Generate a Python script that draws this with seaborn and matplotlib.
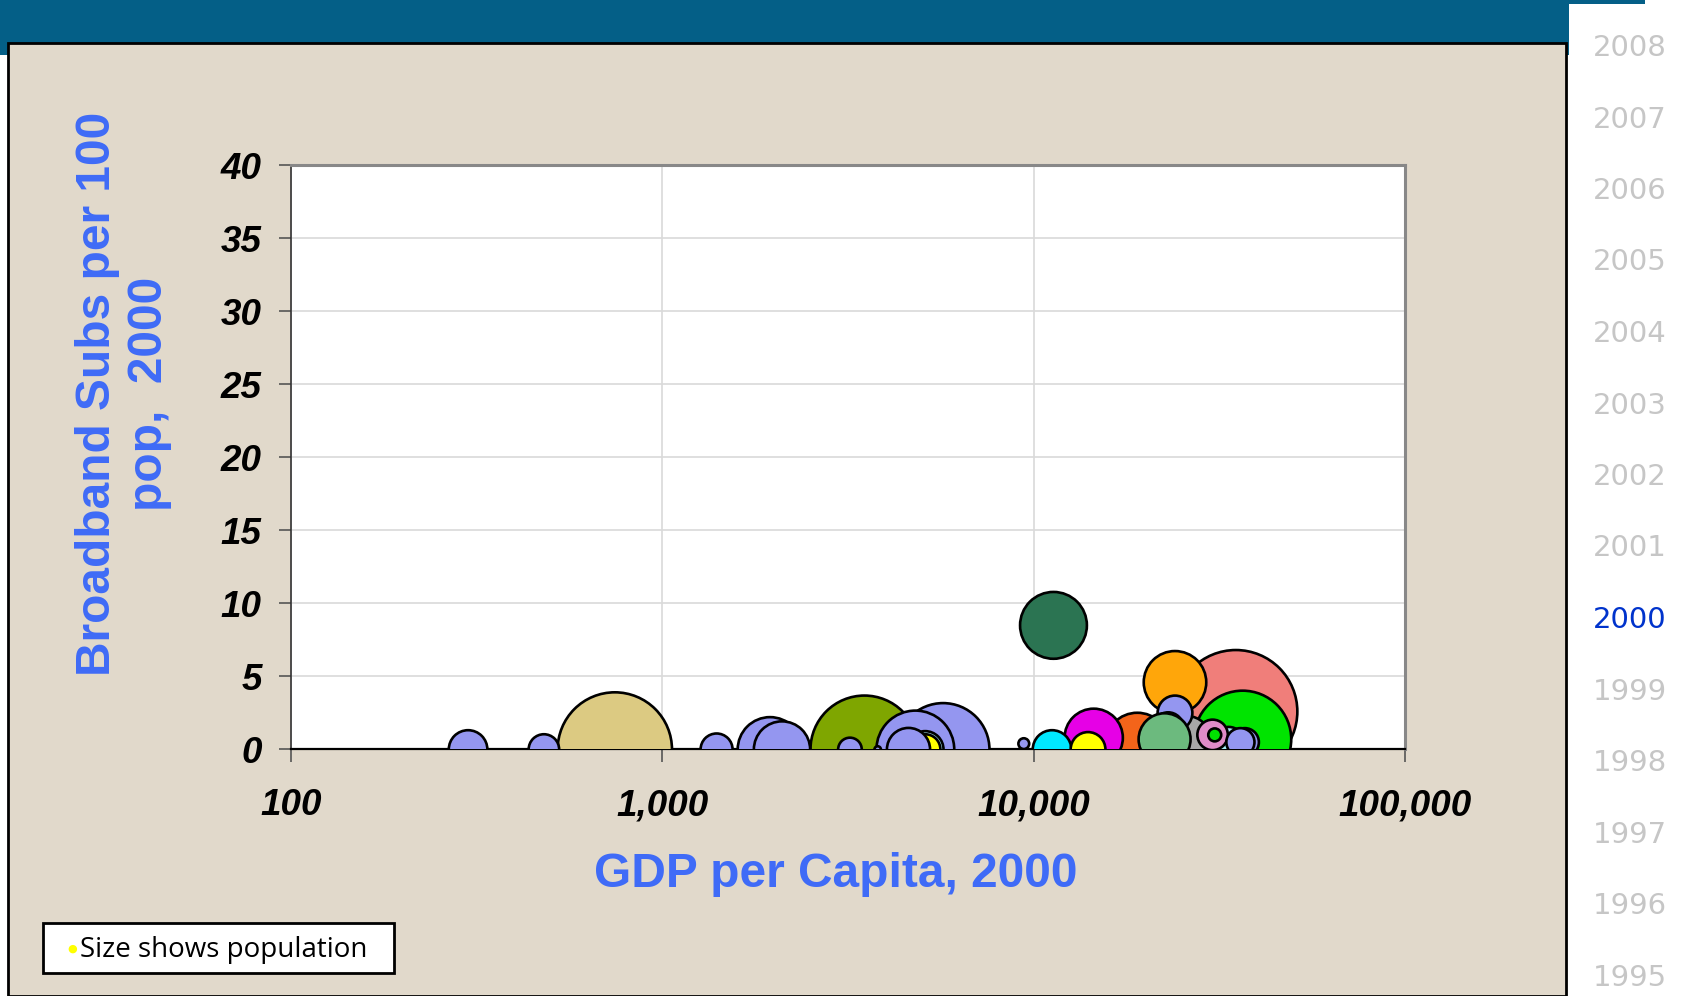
import numpy as np
import pandas as pd
import matplotlib.pyplot as plt
import matplotlib.patches as mpatches
import seaborn as sns

# GDP per capita (USD), broadband subs per 100, population (relative, bubble area)
# listed in drawing order: back to front
gdp = [35000, 745, 3500, 5700, 36500, 1950, 4800, 11300, 19000, 24000,
       2100, 14500, 5100, 5100, 300, 26000, 11200, 24000, 23000, 22500,
       1400, 33500, 14000, 37000, 480, 30300, 36000, 4600, 3200, 30700,
       9400, 3800]
subs = [2.6, 0.0, 0.0, 0.0, 0.7, 0.0, 0.0, 8.5, 0.3, 4.6,
        0.0, 0.8, 0.0, 0.0, 0.0, 0.8, 0.0, 2.5, 1.5, 0.7,
        0.0, 0.5, 0.0, 0.5, 0.0, 1.0, 0.5, 0.0, 0.0, 1.0,
        0.4, 0.0]
pop = [325, 281, 250, 185, 203, 90, 130, 96, 90, 84,
       68, 73, 29, 20, 32, 40, 32, 26, 20, 58,
       22, 20, 26, 17, 20, 20, 17, 40, 12, 3.6,
       2.5, 0.9]
colour = ["salmon", "khaki", "olive", "blue", "green", "blue", "blue", "darkgreen",
          "orangered", "orange", "blue", "magenta", "lightcyan", "yellow",
          "blue", "gray", "cyan", "blue", "blue", "rainbow", "blue", "lightcyan", "yellow",
          "blue", "blue", "pink", "blue", "blue", "blue", "lime", "blue", "blue"]

years = list(range(2008, 1994, -1))
current_year = 2000

palette = {
    "salmon": "#F07E7A", "khaki": "#DCCA82", "olive": "#7FA600", "blue": "#9496F0",
    "green": "#00E400", "darkgreen": "#2B7452", "orangered": "#F3641A",
    "orange": "#FFA60A", "magenta": "#E600E6", "lightcyan": "#A8EEF8",
    "yellow": "#FFFF00", "rainbow": "#6CBA7E", "gray": "#A8A8A8", "cyan": "#00E8FF",
    "pink": "#E08CC8", "lime": "#00E000",
}

df = pd.DataFrame({"gdp": gdp, "subs": subs, "pop": pop, "colour": colour})

blue_txt = "#3F6BF7"

fig = plt.figure(figsize=(16.91, 9.96), dpi=100)
fig.patch.set_facecolor("white")

# banner and beige panel (behind the axes)
fig.patches.append(mpatches.Rectangle((0, 0.945), 0.928, 0.055, transform=fig.transFigure,
                                      facecolor="#045F87", edgecolor="none", zorder=-3))
fig.patches.append(mpatches.Rectangle((0.928, 0.996), 0.045, 0.004, transform=fig.transFigure,
                                      facecolor="#045F87", edgecolor="none", zorder=-3))
fig.patches.append(mpatches.Rectangle((0.005, 0.0), 0.921, 0.957, transform=fig.transFigure,
                                      facecolor="#E1D9CB", edgecolor="black", linewidth=2, zorder=-2))

ax = fig.add_axes([0.172, 0.2475, 0.659, 0.5865])
ax.set_facecolor("white")

max_pop = max(pop)
sns.scatterplot(data=df, x="gdp", y="subs", size="pop", hue="colour", palette=palette,
                sizes=(0, 24.12 * max_pop), size_norm=(0, max_pop),
                edgecolor="black", linewidth=1.9, alpha=1, legend=False, ax=ax, zorder=3)

ax.set_xscale("log")
ax.set_xlim(100, 100000)
ax.set_ylim(0, 40)
ax.set_yticks(range(0, 41, 5))
ax.set_xticks([100, 1000, 10000, 100000])
ax.set_xticklabels(["100", "1,000", "10,000", "100,000"])
ax.minorticks_off()
ax.grid(True, color="#D9D9D9", linewidth=1.2, zorder=0)
ax.set_axisbelow(True)

tick_font = dict(family="Liberation Sans", weight="bold", style="italic", size=26.5)
for lab in ax.get_xticklabels() + ax.get_yticklabels():
    lab.set_fontproperties(tick_font)
ax.tick_params(axis="x", length=9, width=1.2, pad=19, color="#555555")
ax.tick_params(axis="y", length=9, width=1.2, pad=12, color="#555555")

for side in ["top", "right"]:
    ax.spines[side].set_color("#888888")
    ax.spines[side].set_linewidth(2.2)
ax.spines["left"].set_color("#333333")
ax.spines["left"].set_linewidth(1.2)
ax.spines["bottom"].set_color("black")
ax.spines["bottom"].set_linewidth(1.6)

ax.set_xlabel("GDP per Capita, 2000", family="Liberation Sans", weight="bold",
              size=34.5, color=blue_txt)
ax.xaxis.set_label_coords(0.489, -0.175)
ax.set_ylabel("Broadband Subs per 100\npop,  2000", family="Liberation Sans", weight="bold",
              size=34.5, color=blue_txt, linespacing=1.2)
ax.yaxis.set_label_coords(-0.107, 0.609)

# size note
fig.patches.append(mpatches.Rectangle((0.0254, 0.0231), 0.2076, 0.0502, transform=fig.transFigure,
                                      facecolor="white", edgecolor="black", linewidth=2, zorder=1))
fig.text(0.0425, 0.0475, "\u25CF", color="#FFFF00", fontsize=8, ha="center", va="center",
         family="DejaVu Sans", zorder=2)
fig.text(0.0475, 0.0465, "Size shows population", fontsize=20, ha="left", va="center",
         family="Open Sans", color="black", zorder=2)

# year list
for i, yr in enumerate(years):
    ypos = 1 - (48 + i * 71.5) / 996
    fig.text(0.964, ypos, str(yr), ha="center", va="center", fontsize=21,
             family="DejaVu Sans", color="#0033CC" if yr == current_year else "#C6C6C6")

fig.savefig("out.png", dpi=100)
